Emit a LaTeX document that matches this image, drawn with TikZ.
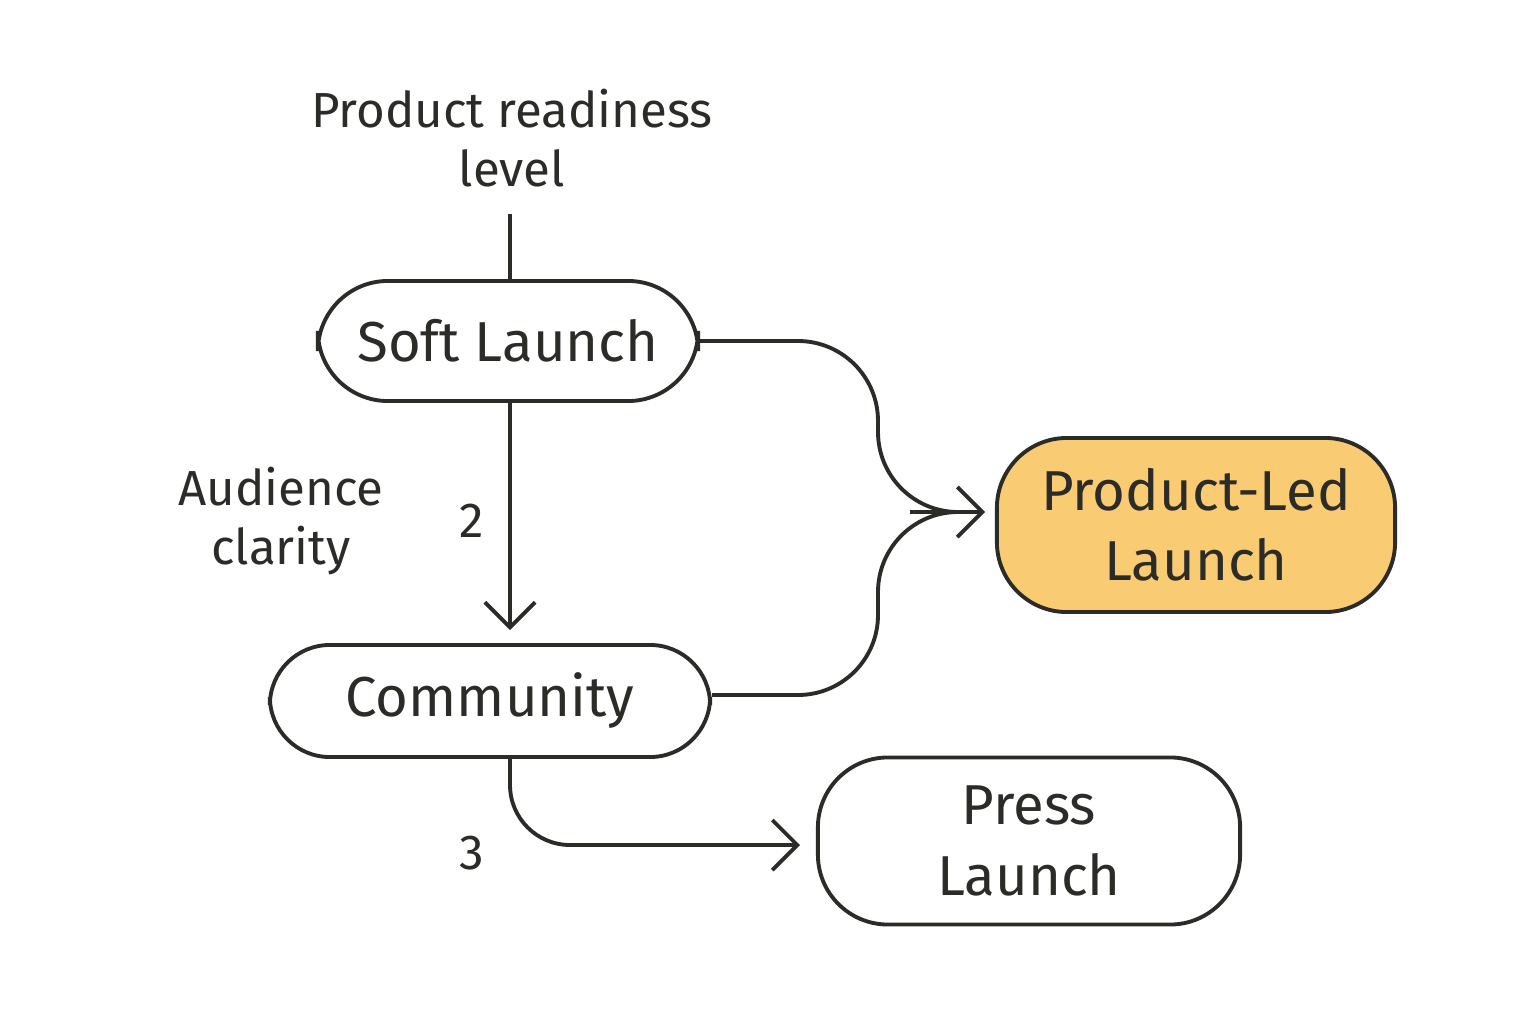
\documentclass[tikz,border=0pt]{standalone}
\usepackage{fontspec}
\setmainfont{Fira Sans}
\usetikzlibrary{arrows.meta}
\definecolor{ink}{HTML}{2B2B28}
\definecolor{gold}{HTML}{F9CB72}
\tikzset{
  stage/.style={rectangle, rounded corners=7mm, draw=ink, line width=1.1pt, align=center,
    font=\fontsize{16}{20}\selectfont, text=ink},
  note/.style={align=center, font=\fontsize{14}{17}\selectfont, text=ink},
  flow/.style={draw=ink, line width=1.1pt, -{Straight Barb[length=2.5mm,width=5mm]}},
}
\begin{document}
\begin{tikzpicture}[x=0.01cm, y=-0.01cm]
  \useasboundingbox (0,0) rectangle (1536,1024);
  \node[note] (ready) at (512,138) {Product readiness\\level};
  \coordinate (top) at (510,214);
  \node[stage, minimum width=3.8cm, minimum height=1.2cm] (soft) at (508,341) {Soft Launch};
  \node[stage, minimum width=4.4cm, minimum height=1.12cm, rounded corners=6mm] (comm) at (490,701) {Community};
  \node[stage, fill=gold, minimum width=3.98cm, minimum height=1.74cm] (pled) at (1196,525) {Product-Led\\Launch};
  \node[stage, minimum width=4.22cm, minimum height=1.67cm] (press) at (1029,841) {Press\\Launch};
  \node[note] (aud) at (281,521) {Audience\\clarity};
  \node[note] (two) at (472,521) {2};
  \node[note] (three) at (472,853) {3};
  \coordinate (merge) at (910,512);
  % connectors
  \draw[draw=ink, line width=1.1pt] (top) -- (top |- soft.north);
  \draw[flow] (510,401) -- (510,630);
  \draw[draw=ink, line width=1.1pt, rounded corners=8mm] (soft.east) -- (878,341) -- (878,512) -- (merge);
  \draw[draw=ink, line width=1.1pt, rounded corners=8mm] (comm.east |- 0,695) -- (878,695) -- (878,512) -- (merge);
  \draw[flow] (merge) -- (985,512);
  \draw[flow, rounded corners=6mm] (comm.south -| 510,0) -- (510,845) -- (800,845);
\end{tikzpicture}
\end{document}
